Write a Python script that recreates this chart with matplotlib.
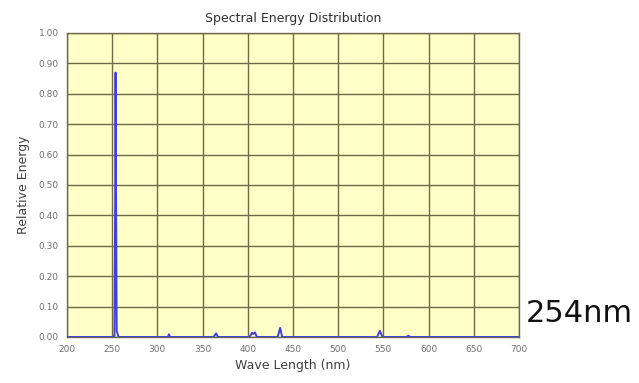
import matplotlib
matplotlib.use("Agg")
import matplotlib.pyplot as plt

# spectrum (nm, relative energy)
wavelength = [200, 250, 252.5, 253.2, 253.7, 254.3, 255, 257, 300, 311.5, 312.8, 314, 362,
              365.0, 367, 402, 404.7, 406, 408, 410, 433, 435.8, 438, 543, 546.1, 549,
              575, 577.5, 580, 700]
energy = [0.0, 0.0, 0.003, 0.4, 0.87, 0.45, 0.02, 0.0, 0.0, 0.0, 0.009, 0.0, 0.0,
          0.012, 0.0, 0.0, 0.014, 0.01, 0.015, 0.0, 0.0, 0.03, 0.0, 0.0, 0.02, 0.0,
          0.0, 0.004, 0.0, 0.0]

x_ticks = [200, 250, 300, 350, 400, 450, 500, 550, 600, 650, 700]
y_ticks = [0.0, 0.1, 0.2, 0.3, 0.4, 0.5, 0.6, 0.7, 0.8, 0.9, 1.0]

grid_color = "#6e6a48"

fig = plt.figure(figsize=(6.39, 3.83), dpi=100)
ax = fig.add_axes([67 / 639, 1 - 337 / 383, (519 - 67) / 639, (337 - 33) / 383])
ax.set_facecolor("#ffffc8")

ax.plot(wavelength, energy, color="#4040e0", lw=1.4, zorder=3)

ax.set_xlim(200, 700)
ax.set_ylim(0, 1.0)
ax.set_xticks(x_ticks)
ax.set_yticks(y_ticks)
ax.set_xticklabels([str(t) for t in x_ticks])
ax.set_yticklabels(["%.2f" % t for t in y_ticks])
ax.tick_params(length=0, labelsize=6.5, labelcolor="#707070", pad=6)
ax.grid(True, color=grid_color, lw=1.0)
for s in ax.spines.values():
    s.set_color(grid_color)
    s.set_linewidth(1.0)

ax.set_title("Spectral Energy Distribution", fontsize=9, color="#303030", pad=8)
ax.set_xlabel("Wave Length (nm)", fontsize=9, color="#404040", labelpad=3)
ax.set_ylabel("Relative Energy", fontsize=9, color="#404040", labelpad=6)

fig.text(526 / 639, 1 - 314 / 383, "254nm", fontsize=22, color="#111111",
         ha="left", va="center")

fig.savefig("out.png", dpi=100)
